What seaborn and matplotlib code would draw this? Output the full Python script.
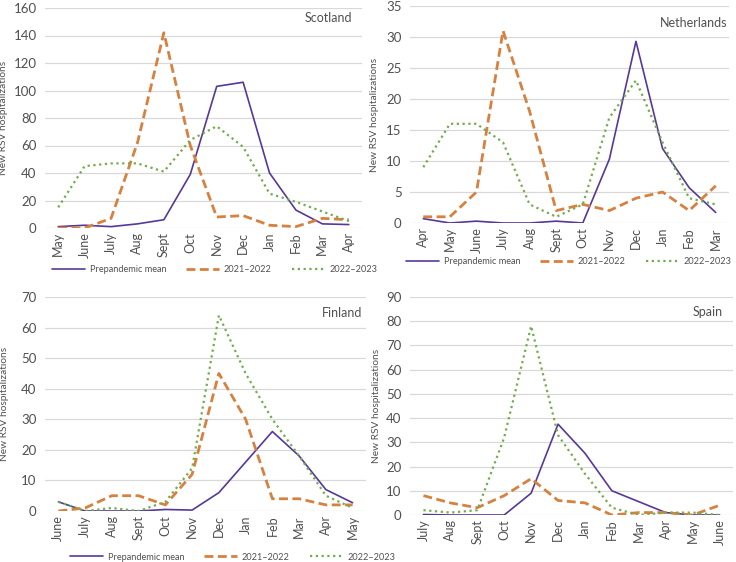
import numpy as np
import pandas as pd
import matplotlib
matplotlib.use("Agg")
import matplotlib.pyplot as plt
import seaborn as sns

# ----------------------------- Data -----------------------------
SERIES = ["Prepandemic mean", "2021\u20132022", "2022\u20132023"]

scotland_months = ["May", "June", "July", "Aug", "Sept", "Oct", "Nov", "Dec", "Jan", "Feb", "Mar", "Apr"]
scotland_pre = [1, 2, 1, 3, 6, 39, 103, 106, 40, 13, 3, 2.5]
scotland_2122 = [0, 0, 7, 62, 142, 60, 8, 9, 2, 1, 7, 6]
scotland_2223 = [15, 45, 47, 47, 41, 64, 74, 59, 25, 19, 12, 5]

netherlands_months = ["Apr", "May", "June", "July", "Aug", "Sept", "Oct", "Nov", "Dec", "Jan", "Feb", "Mar"]
netherlands_pre = [0.7, 0, 0.3, 0, 0, 0.3, 0, 10.3, 29.3, 12, 5.7, 1.7]
netherlands_2122 = [1, 1, 5, 31, 18, 2, 3, 2, 4, 5, 2, 6]
netherlands_2223 = [9, 16, 16, 13, 3, 1, 3, 17, 23, 13, 4, 3]

finland_months = ["June", "July", "Aug", "Sept", "Oct", "Nov", "Dec", "Jan", "Feb", "Mar", "Apr", "May"]
finland_pre = [3, 0, 0, 0, 0.5, 0.3, 6, 16, 26, 18, 7, 2.7]
finland_2122 = [0, 1, 5, 5, 2, 12, 45, 30, 4, 4, 2, 2]
finland_2223 = [3, 0, 1, 0, 3, 14, 64, 45, 30, 18, 5, 1]

spain_months = ["July", "Aug", "Sept", "Oct", "Nov", "Dec", "Jan", "Feb", "Mar", "Apr", "May", "June"]
spain_pre = [0.2, 0, 0, 0, 9, 37.5, 25.5, 10, 5.5, 1, 0, 0]
spain_2122 = [8, 5, 3, 8, 15, 6, 5, 0, 1, 1, 0, 4]
spain_2223 = [2, 1, 2, 32, 78, 33, 17, 3, 0, 1, 1, 0]

# ----------------------------- Styles -----------------------------
COLORS = {SERIES[0]: "#563898", SERIES[1]: "#d6813f", SERIES[2]: "#72ac4d"}
DASHES = {SERIES[0]: "", SERIES[1]: (3.2, 1.6), SERIES[2]: (1, 1.6)}
WIDTHS = {SERIES[0]: 1.2, SERIES[1]: 2.0, SERIES[2]: 1.6}

W, H = 736, 562
FONT = ["Lato", "DejaVu Sans"]
GREY = "#505050"

sns.set_theme(style="white")
plt.rcParams["font.family"] = FONT
plt.rcParams["text.color"] = GREY


def make_df(months, pre, y2122, y2223):
    rows = []
    for name, vals in zip(SERIES, [pre, y2122, y2223]):
        for i, (m, v) in enumerate(zip(months, vals)):
            rows.append({"pos": i, "Month": m, "Series": name, "Value": v})
    return pd.DataFrame(rows)


def panel(fig, box, months, pre, y2122, y2223, title, ymax, step, title_xy, ylab_x, legend=None):
    left, top, right, bottom = box
    w = right - left
    hgt = bottom - top
    ax = fig.add_axes([left / W, 1 - bottom / H, w / W, hgt / H])
    df = make_df(months, pre, y2122, y2223)
    for name in SERIES:
        sub = df[df["Series"] == name]
        sns.lineplot(data=sub, x="pos", y="Value", ax=ax, color=COLORS[name],
                     linewidth=WIDTHS[name], label=name, legend=False,
                     dashes=False, sort=False)
        line = ax.get_lines()[-1]
        if DASHES[name]:
            line.set_dashes(DASHES[name])
    ax.set_xlim(-0.5, len(months) - 0.5)
    ax.set_ylim(0, ymax)
    ax.set_yticks(np.arange(0, ymax + 0.1, step))
    ax.set_xticks(range(len(months)))
    ax.set_xticklabels(months, rotation=90, fontsize=9, color=GREY)
    ax.tick_params(axis="y", labelsize=9.5, labelcolor=GREY, length=0, pad=6)
    ax.tick_params(axis="x", length=0, pad=3)
    ax.yaxis.grid(True, color="#d9d9d9", linewidth=0.9)
    ax.set_axisbelow(True)
    for s in ax.spines.values():
        s.set_visible(False)
    ax.set_xlabel("")
    ax.set_ylabel("New RSV hospitalizations", fontsize=7.3, color=GREY)
    ax.yaxis.set_label_coords((ylab_x - left) / w, 0.5)
    fig.text(title_xy[0] / W, 1 - title_xy[1] / H, title, ha="right", va="center",
             fontsize=9, color=GREY)
    if legend is not None:
        x0, ly = legend
        leg = ax.legend(loc="center left", bbox_to_anchor=((x0 - left) / w, (bottom - ly) / hgt),
                        ncol=3, frameon=False, fontsize=6.6, handlelength=3.6,
                        handletextpad=0.5, columnspacing=2.2, borderaxespad=0, borderpad=0)
        for t in leg.get_texts():
            t.set_color(GREY)
    return ax


fig = plt.figure(figsize=(W / 100, H / 100), dpi=100)
fig.patch.set_facecolor("white")

panel(fig, (45, 8, 362, 228), scotland_months, scotland_pre, scotland_2122, scotland_2223,
      "Scotland", 160, 20, (352, 18), 8, legend=(52, 270))
panel(fig, (410, 6, 729, 223), netherlands_months, netherlands_pre, netherlands_2122, netherlands_2223,
      "Netherlands", 35, 5, (727, 23), 379, legend=(406, 262))
panel(fig, (45, 297, 366, 511), finland_months, finland_pre, finland_2122, finland_2223,
      "Finland", 70, 10, (362, 313), 9, legend=(70, 557))
panel(fig, (410, 297, 733, 515), spain_months, spain_pre, spain_2122, spain_2223,
      "Spain", 90, 10, (723, 312), 381)

fig.savefig("out.png", dpi=100)
